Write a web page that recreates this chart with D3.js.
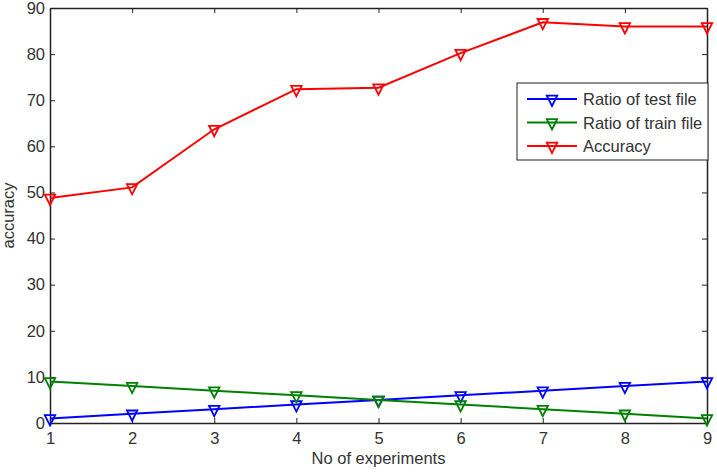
<!DOCTYPE html>
<html>
<head>
<meta charset="utf-8">
<script src="https://cdn.jsdelivr.net/npm/d3@7"></script>
<style>
  body { margin: 0; background: #fff; }
  text { font-family: "Liberation Sans", Arial, sans-serif; }
</style>
</head>
<body>
<script>
// data
var experiments = [1, 2, 3, 4, 5, 6, 7, 8, 9];
var testRatio = [1, 2, 3, 4, 5, 6, 7, 8, 9];
var trainRatio = [9, 8, 7, 6, 5, 4, 3, 2, 1];
var accuracy = [48.8, 51.1, 63.7, 72.4, 72.7, 80.2, 86.9, 86.0, 86.0];
var seriesNames = ['Ratio of test file', 'Ratio of train file', 'Accuracy'];
var seriesColors = ['#0000ff', '#008000', '#ff0000'];
var yTicks = [0, 10, 20, 30, 40, 50, 60, 70, 80, 90];

var width = 717, height = 475;
var margin = {left: 50, right: 10, top: 8, bottom: 52};
var fontSize = '16.5px';

var svg = d3.select('body').append('svg')
  .attr('width', width)
  .attr('height', height);

var x = d3.scaleLinear().domain([1, 9]).range([margin.left, width - margin.right]);
var y = d3.scaleLinear().domain([0, 90]).range([height - margin.bottom, margin.top]);

var x0 = x.range()[0], x1 = x.range()[1], y0 = y.range()[0], y1 = y.range()[1];

// axes: ticks point inward, mirrored on top / right like a matlab box
svg.append('g')
  .attr('transform', 'translate(0,' + y0 + ')')
  .call(d3.axisBottom(x).tickValues(experiments).tickSizeInner(-5).tickSizeOuter(0).tickPadding(9))
  .call(styleAxis);
svg.append('g')
  .attr('transform', 'translate(0,' + y1 + ')')
  .call(d3.axisTop(x).tickValues(experiments).tickSizeInner(-5).tickSizeOuter(0).tickFormat(''))
  .call(styleAxis);
svg.append('g')
  .attr('transform', 'translate(' + x0 + ',0)')
  .call(d3.axisLeft(y).tickValues(yTicks).tickSizeInner(-5).tickSizeOuter(0).tickPadding(5))
  .call(styleAxis);
svg.append('g')
  .attr('transform', 'translate(' + x1 + ',0)')
  .call(d3.axisRight(y).tickValues(yTicks).tickSizeInner(-5).tickSizeOuter(0).tickFormat(''))
  .call(styleAxis);

function styleAxis(g) {
  g.select('.domain').attr('stroke', '#222').attr('stroke-width', 1.5);
  g.selectAll('.tick line').attr('stroke', '#222');
  g.selectAll('.tick text').attr('fill', '#333').style('font-size', fontSize);
}

svg.append('text')
  .attr('x', (x0 + x1) / 2)
  .attr('y', 464)
  .attr('text-anchor', 'middle')
  .attr('fill', '#333')
  .style('font-size', fontSize)
  .text('No of experiments');

svg.append('text')
  .attr('transform', 'translate(14,' + ((y0 + y1) / 2) + ') rotate(-90)')
  .attr('text-anchor', 'middle')
  .attr('fill', '#333')
  .style('font-size', fontSize)
  .text('accuracy');

// triangle pointing down, data point sits above the middle
function triangle(cx, cy) {
  return 'M' + (cx - 5.2) + ',' + (cy - 3.3) +
         'L' + (cx + 5.2) + ',' + (cy - 3.3) +
         'L' + cx + ',' + (cy + 7) + 'Z';
}

var series = [testRatio, trainRatio, accuracy];
var line = d3.line()
  .x(function(d, i) { return x(experiments[i]); })
  .y(function(d) { return y(d); });

series.forEach(function(vals, k) {
  svg.append('path')
    .attr('d', line(vals))
    .attr('fill', 'none')
    .attr('stroke', seriesColors[k])
    .attr('stroke-width', 2);
  svg.selectAll('.m' + k)
    .data(vals)
    .enter().append('path')
    .attr('class', 'm' + k)
    .attr('d', function(d, i) { return triangle(x(experiments[i]), y(d)); })
    .attr('fill', 'none')
    .attr('stroke', seriesColors[k])
    .attr('stroke-width', 1.8);
});

// legend
var legend = svg.append('g').attr('transform', 'translate(517,83)');
legend.append('rect')
  .attr('width', 191)
  .attr('height', 77)
  .attr('fill', '#fff')
  .attr('stroke', '#222')
  .attr('stroke-width', 1);

seriesNames.forEach(function(name, k) {
  var ly = 16 + k * 23.5;
  legend.append('line')
    .attr('x1', 10).attr('x2', 60)
    .attr('y1', ly).attr('y2', ly)
    .attr('stroke', seriesColors[k])
    .attr('stroke-width', 2);
  legend.append('path')
    .attr('d', triangle(35, ly))
    .attr('fill', 'none')
    .attr('stroke', seriesColors[k])
    .attr('stroke-width', 1.8);
  legend.append('text')
    .attr('x', 66)
    .attr('y', ly + 6)
    .attr('fill', '#333')
    .style('font-size', fontSize)
    .text(name);
});
</script>
</body>
</html>
